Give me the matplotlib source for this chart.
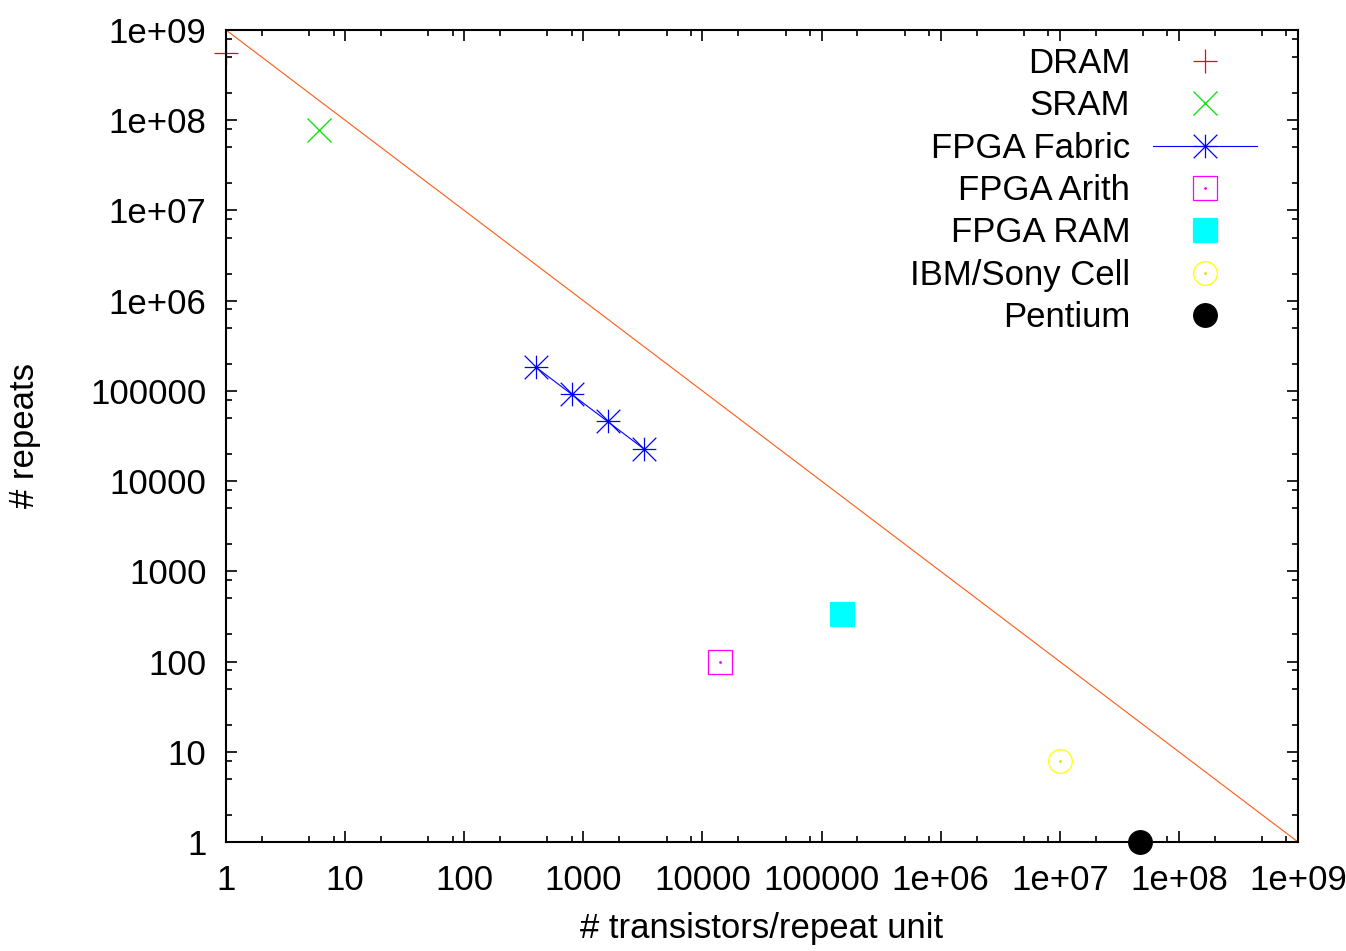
import numpy as np
import matplotlib.pyplot as plt
from matplotlib.path import Path
from matplotlib.ticker import FixedLocator, FixedFormatter, NullFormatter

# data
dram_x = [1]
dram_y = [5.5e8]
sram_x = [6]
sram_y = [7.8e7]
fabric_x = [400, 800, 1600, 3200]
fabric_y = [183000, 91500, 45800, 22900]
arith_x = [14000]
arith_y = [98]
ram_x = [148000]
ram_y = [337]
cell_x = [1e7]
cell_y = [8]
pentium_x = [4.7e7]
pentium_y = [1]

# reference line  repeats = 1e9 / transistors
bound_x = [1, 1e9]
bound_y = [1e9, 1]

tick_vals = [1, 10, 100, 1000, 10000, 100000, 1e6, 1e7, 1e8, 1e9]
tick_labels = ["1", "10", "100", "1000", "10000", "100000",
               "1e+06", "1e+07", "1e+08", "1e+09"]
minor_vals = [m * 10.0**k for k in range(9) for m in (2, 5, 8)]

plt.rcParams['font.family'] = ['Liberation Sans', 'DejaVu Sans']
plt.rcParams['font.size'] = 25

# gnuplot style asterisk: + and x on top of each other
asterisk = Path([(-1, 0), (1, 0), (0, -1), (0, 1), (-1, -1), (1, 1), (-1, 1), (1, -1)],
                [Path.MOVETO, Path.LINETO] * 4)

fig = plt.figure(figsize=(13.46, 9.51), dpi=100)
ax = fig.add_axes([226/1346, 1 - 842/951, 1072/1346, 812/951])

ms = 17
mew = 0.9
kw = dict(linestyle='none', clip_on=False, markersize=ms, markeredgewidth=mew)
dot = dict(linestyle='none', marker='.', markersize=2, clip_on=False)

ax.plot(bound_x, bound_y, color='#ff5a14', linewidth=0.8, zorder=1)

h1, = ax.plot(dram_x, dram_y, marker='+', color='#ff0000', **kw)
h2, = ax.plot(sram_x, sram_y, marker='x', color='#00e000', **kw)
h3, = ax.plot(fabric_x, fabric_y, marker=asterisk, color='#0000ff', linewidth=0.8,
              markersize=ms, markeredgewidth=0.9, clip_on=False)
h4, = ax.plot(arith_x, arith_y, marker='s', color='#ff00ff', markerfacecolor='none', **kw)
d4, = ax.plot(arith_x, arith_y, color='#ff00ff', **dot)
h5, = ax.plot(ram_x, ram_y, marker='s', color='#00ffff', **kw)
h6, = ax.plot(cell_x, cell_y, marker='o', color='#ffff00', markerfacecolor='none', **kw)
d6, = ax.plot(cell_x, cell_y, color='#e0e000', **dot)
h7, = ax.plot(pentium_x, pentium_y, marker='o', color='#000000', **kw)

ax.set_xscale('log')
ax.set_yscale('log')
ax.set_xlim(1, 1e9)
ax.set_ylim(1, 1e9)

for axis in (ax.xaxis, ax.yaxis):
    axis.set_major_locator(FixedLocator(tick_vals))
    axis.set_major_formatter(FixedFormatter(tick_labels))
    axis.set_minor_locator(FixedLocator(minor_vals))
    axis.set_minor_formatter(NullFormatter())

ax.tick_params(which='both', direction='in', top=True, right=True, width=1.2)
ax.tick_params(which='major', length=8)
ax.tick_params(axis='y', which='major', pad=14)
ax.tick_params(axis='x', which='major', pad=16)
ax.tick_params(which='minor', length=4.5)
for s in ax.spines.values():
    s.set_linewidth(1.5)

ax.set_xlabel('# transistors/repeat unit')
ax.set_ylabel('# repeats')
ax.xaxis.set_label_coords(0.5, -0.086)
ax.yaxis.set_label_coords(-0.173, 0.5)

labels = ['DRAM', 'SRAM', 'FPGA Fabric', 'FPGA Arith', 'FPGA RAM', 'IBM/Sony Cell', 'Pentium']
leg = ax.legend([h1, h2, h3, (h4, d4), h5, (h6, d6), h7], labels, loc='upper right',
                bbox_to_anchor=(1 - 41/1072, 1 - 17/812), borderaxespad=0, borderpad=0,
                frameon=False, markerfirst=False, numpoints=1,
                handlelength=3.0, handletextpad=0.65, labelspacing=0.27)

fig.savefig('out.png', dpi=100)
